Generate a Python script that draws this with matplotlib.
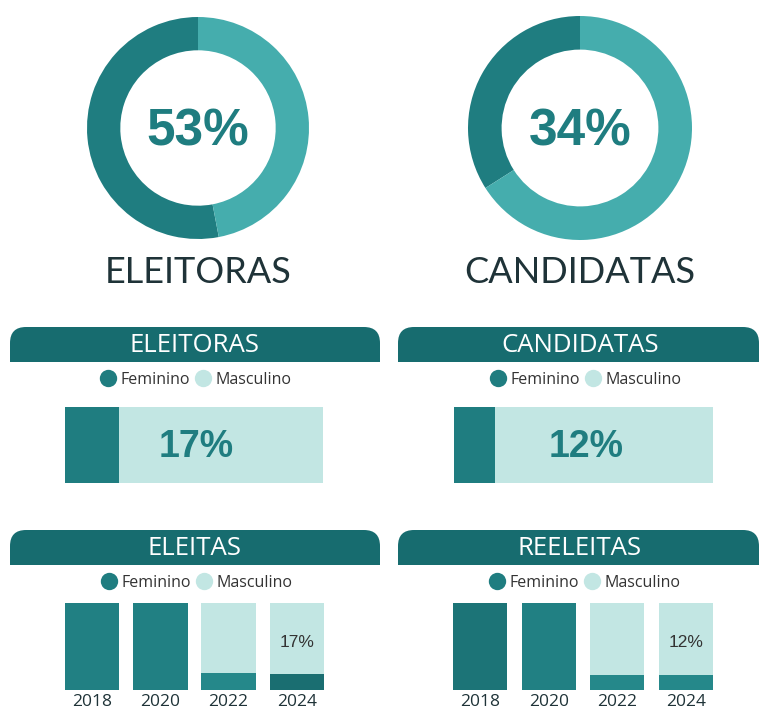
import matplotlib
matplotlib.use('Agg')
import matplotlib.pyplot as plt
from matplotlib.patches import FancyBboxPatch, Rectangle
from matplotlib.lines import Line2D

# donut values (% feminino)
donut_titles = ['ELEITORAS', 'CANDIDATAS']
donut_values = [53, 34]

# horizontal bars
hbar_titles = ['ELEITORAS', 'CANDIDATAS']
hbar_fem = [21, 16]          # share drawn as dark part
hbar_labels = ['17%', '12%']

# year bars
years = ['2018', '2020', '2022', '2024']
col_titles = ['ELEITAS', 'REELEITAS']
eleitas_fem = [100, 100, 20, 18]
reeleitas_fem = [100, 100, 17, 17]
col_labels = ['17%', '12%']

W, H = 759, 709
DARK = '#1f7d80'
RING_LIGHT = '#45adad'
BAR_LIGHT = '#c2e6e3'
BANNER = '#176c6f'
TXT = '#1f3338'
HUMANIST = ['Lato', 'Open Sans', 'DejaVu Sans']

fig = plt.figure(figsize=(W / 100, H / 100), dpi=100)
fig.patch.set_facecolor('white')

# background axes in pixel coordinates, for banners
bg = fig.add_axes([0, 0, 1, 1])
bg.set_xlim(0, W)
bg.set_ylim(H, 0)
bg.axis('off')


def px_axes(x0, y0, x1, y1):
    return fig.add_axes([x0 / W, 1 - y1 / H, (x1 - x0) / W, (y1 - y0) / H])


def banner(x0, x1, y0, y1, title):
    r = 16
    bg.add_patch(FancyBboxPatch((x0, y0), x1 - x0, y1 - y0,
                                boxstyle='round,pad=0,rounding_size=%d' % r,
                                fc=BANNER, ec='none'))
    bg.add_patch(Rectangle((x0, y0 + r), x1 - x0, y1 - y0 - r, fc=BANNER, ec='none'))
    bg.text((x0 + x1) / 2 if x1 < W else 580, (y0 + y1) / 2 + 1, title, color='white',
            fontsize=18.5, ha='center', va='center', family=['Open Sans', 'DejaVu Sans'])


def legend_at(cx, cy):
    handles = [Line2D([], [], marker='o', ls='none', ms=12.5, mfc=DARK, mec='none', label='Feminino'),
               Line2D([], [], marker='o', ls='none', ms=12.5, mfc=BAR_LIGHT, mec='none', label='Masculino')]
    fig.legend(handles=handles, loc='center', ncol=2, frameon=False,
               bbox_to_anchor=(cx / W, 1 - cy / H),
               handletextpad=0.3, columnspacing=0.3, handlelength=1.0,
               labelcolor='#333333', prop={'family': ['Open Sans', 'DejaVu Sans'], 'size': 11.5})


# donuts
donut_boxes = [(87, 17, 309, 239), (468, 16, 692, 240)]
for (x0, y0, x1, y1), val, title in zip(donut_boxes, donut_values, donut_titles):
    ax = px_axes(x0, y0, x1, y1)
    ax.pie([val, 100 - val], colors=[DARK, RING_LIGHT], startangle=90, counterclock=True,
           radius=1, wedgeprops=dict(width=0.3, linewidth=0))
    ax.set_xlim(-1, 1)
    ax.set_ylim(-1, 1)
    ax.text(0, -0.035, '%d%%' % val, ha='center', va='center', fontsize=37,
            fontweight='bold', color=DARK, family=['Liberation Sans', 'DejaVu Sans'])
    fig.text(((x0 + x1) / 2) / W, 1 - 272 / H, title, ha='center', va='center',
             fontsize=26, color=TXT, family=HUMANIST)

# horizontal bars
hbar_boxes = [(65, 407, 323, 483), (454, 407, 713, 483)]
banner_x = [(10, 380), (398, W)]
for i, ((x0, y0, x1, y1), fem, lab, title) in enumerate(zip(hbar_boxes, hbar_fem, hbar_labels, hbar_titles)):
    banner(banner_x[i][0], banner_x[i][1], 327, 362, title)
    legend_at((x0 + x1) / 2 + 2, 380)
    ax = px_axes(x0, y0, x1, y1)
    ax.barh(0, fem, height=1, color=DARK, lw=0)
    ax.barh(0, 100 - fem, left=fem, height=1, color=BAR_LIGHT, lw=0)
    ax.set_xlim(0, 100)
    ax.set_ylim(-0.5, 0.5)
    ax.axis('off')
    ax.text(51, -0.03, lab, ha='center', va='center', fontsize=27,
            fontweight='bold', color=DARK, family=['Liberation Sans', 'DejaVu Sans'])

# year bars
col_boxes = [(65, 603, 324, 690), (453, 603, 713, 690)]
col_data = [eleitas_fem, reeleitas_fem]
dark_shades = [['#218083', '#218083', '#25888a', '#1a6e71'],
               ['#1c7477', '#218083', '#25888a', '#25888a']]
for i, ((x0, y0, x1, y1), fem, lab, title) in enumerate(zip(col_boxes, col_data, col_labels, col_titles)):
    banner(banner_x[i][0], banner_x[i][1], 530, 565, title)
    legend_at((x0 + x1) / 2 + 2, 583)
    ax = px_axes(x0, y0, x1, y1)
    xs = range(len(years))
    masc = [100 - f for f in fem]
    ax.bar(xs, fem, width=0.795, color=dark_shades[i], lw=0)
    ax.bar(xs, masc, bottom=fem, width=0.795, color=BAR_LIGHT, lw=0)
    ax.set_xlim(-0.3975, len(years) - 1 + 0.3975)
    ax.set_ylim(0, 100)
    for s in ax.spines.values():
        s.set_visible(False)
    ax.set_yticks([])
    ax.set_xticks(list(xs))
    ax.set_xticklabels(years, fontsize=12.5, color=TXT, family=['Open Sans', 'DejaVu Sans'])
    ax.tick_params(axis='x', length=0, pad=3)
    ax.text(3, 55, lab, ha='center', va='center', fontsize=12.5, color='#333333',
            family=['Liberation Sans', 'DejaVu Sans'])

fig.savefig('out.png', dpi=100, facecolor='white')
